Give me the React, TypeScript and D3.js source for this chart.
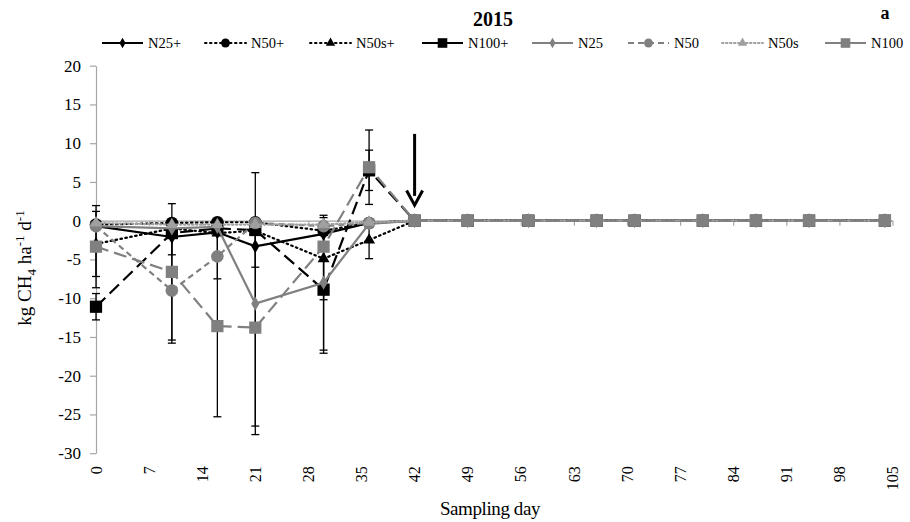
import { useEffect, useRef } from 'react';
import * as d3 from 'd3';

// sampling days (x values)
const days = [0, 10, 16, 21, 30, 36, 42, 49, 57, 66, 71, 80, 87, 94, 104];

// CH4 flux, kg CH4 ha-1 d-1
const n25p = [-0.7, -2.1, -1.5, -3.3, -1.7, -0.3, 0, 0, 0, 0, 0, 0, 0, 0, 0];
const n50p = [-0.5, -0.3, -0.2, -0.2, -1.3, -0.3, 0, 0, 0, 0, 0, 0, 0, 0, 0];
const n50sp = [-3.0, -1.0, -1.6, -1.3, -4.9, -2.5, 0, 0, 0, 0, 0, 0, 0, 0, 0];
const n100p = [-11.1, -1.6, -1.0, -1.2, -8.9, 6.5, 0, 0, 0, 0, 0, 0, 0, 0, 0];
const n25 = [-0.7, -1.0, -0.8, -10.7, -8.0, -0.4, 0, 0, 0, 0, 0, 0, 0, 0, 0];
const n50 = [-0.7, -9.0, -4.6, -0.3, -0.7, -0.3, 0, 0, 0, 0, 0, 0, 0, 0, 0];
const n50s = [-0.3, -0.5, -0.5, -0.5, -0.5, -0.2, 0, 0, 0, 0, 0, 0, 0, 0, 0];
const n100 = [-3.35, -6.6, -13.6, -13.8, -3.35, 6.9, 0, 0, 0, 0, 0, 0, 0, 0, 0];

// standard deviations (symmetric error bars)
const n25pErr = [0, 2.3, 0, 2.7, 0, 0, 0, 0, 0, 0, 0, 0, 0, 0, 0];
const n50pErr = [0, 0, 0, 0, 0.6, 0, 0, 0, 0, 0, 0, 0, 0, 0, 0];
const n50spErr = [4.2, 0, 0, 0, 5.3, 2.4, 0, 0, 0, 0, 0, 0, 0, 0, 0];
const n100pErr = [1.7, 0, 0, 0, 8.2, 2.6, 0, 0, 0, 0, 0, 0, 0, 0, 0];
const n25Err = [0, 0, 0, 16.9, 8.7, 0, 0, 0, 0, 0, 0, 0, 0, 0, 0];
const n50Err = [0, 6.8, 2.9, 0, 0, 0, 0, 0, 0, 0, 0, 0, 0, 0, 0];
const n50sErr = [0, 0, 0, 0, 0, 0, 0, 0, 0, 0, 0, 0, 0, 0, 0];
const n100Err = [5.3, 8.8, 11.7, 12.7, 0, 4.8, 0, 0, 0, 0, 0, 0, 0, 0, 0];

const seriesNames = ['N25+', 'N50+', 'N50s+', 'N100+', 'N25', 'N50', 'N50s', 'N100'];
const xTicks = d3.range(0, 106, 7);
const yTicks = d3.range(-30, 21, 5);

const GRAY = '#808080';
const FONT = '"Liberation Serif", "Times New Roman", serif';

export default function App() {
  const svgRef = useRef<SVGSVGElement>(null);

  useEffect(() => {
    if (!svgRef.current) return;
    const svg = d3.select(svgRef.current);
    svg.selectAll('*').remove();

    const series = [
      { name: seriesNames[0], values: n25p, err: n25pErr, color: '#000', dash: null, legendDash: null, symbol: 'diamond' },
      { name: seriesNames[1], values: n50p, err: n50pErr, color: '#000', dash: '1.5 3.5', legendDash: '1.5 3.5', symbol: 'circle' },
      { name: seriesNames[2], values: n50sp, err: n50spErr, color: '#000', dash: '1.5 3.5', legendDash: '1.5 3.5', symbol: 'triangle' },
      { name: seriesNames[3], values: n100p, err: n100pErr, color: '#000', dash: '13 6', legendDash: null, symbol: 'square' },
      { name: seriesNames[4], values: n25, err: n25Err, color: GRAY, dash: null, legendDash: null, symbol: 'diamond' },
      { name: seriesNames[5], values: n50, err: n50Err, color: GRAY, dash: '6 4', legendDash: '6 4', symbol: 'circle' },
      { name: seriesNames[6], values: n50s, err: n50sErr, color: '#a0a0a0', dash: '1.5 2.5', legendDash: '1.5 2.5', symbol: 'triangle' },
      { name: seriesNames[7], values: n100, err: n100Err, color: GRAY, dash: '13 6', legendDash: null, symbol: 'square' },
    ];

    const x = d3.scaleLinear().domain([0, 105]).range([96, 892.5]);
    const y = d3.scaleLinear().domain([-30, 20]).range([453.2, 65.7]);

    const symbolPath = (kind: string, big: boolean) => {
      const t =
        kind === 'diamond' ? d3.symbolDiamond :
        kind === 'circle' ? d3.symbolCircle :
        kind === 'triangle' ? d3.symbolTriangle : d3.symbolSquare;
      const sizes: Record<string, number[]> = {
        diamond: [58, 32],
        circle: [125, 62],
        triangle: [62, 38],
        square: [150, 92],
      };
      return d3.symbol(t, sizes[kind][big ? 0 : 1])();
    };

    // Y axis
    const yAxis = svg
      .append('g')
      .attr('transform', `translate(${x(0)},0)`)
      .call(
        d3.axisLeft(y).tickValues(yTicks).tickSize(6).tickSizeOuter(0).tickPadding(9)
          .tickFormat((d) => String(d))
      );
    yAxis.selectAll('.domain, .tick line').attr('stroke', '#a6a6a6').attr('stroke-width', 1.2);
    yAxis
      .selectAll('text')
      .attr('fill', '#000')
      .style('font-family', FONT)
      .style('font-size', '17px');

    // X axis crossing at zero
    const xAxis = svg
      .append('g')
      .attr('transform', `translate(0,${y(0)})`)
      .call(d3.axisBottom(x).tickValues(xTicks).tickSize(5).tickSizeOuter(0).tickFormat(() => ''));
    xAxis.selectAll('.domain, .tick line').attr('stroke', '#a6a6a6').attr('stroke-width', 1.2);

    // X labels at the bottom, rotated
    svg
      .append('g')
      .selectAll('text')
      .data(xTicks)
      .enter()
      .append('text')
      .attr('transform', (d) => `translate(${x(d)},${y(-30) + 13}) rotate(-90)`)
      .attr('text-anchor', 'end')
      .attr('dy', '0.35em')
      .style('font-family', FONT)
      .style('font-size', '16px')
      .text((d) => d);

    // error bars behind everything
    const bars = svg.append('g');
    series.forEach((s) => {
      s.values.forEach((v, i) => {
        const e = s.err[i];
        if (!e) return;
        const cx = x(days[i]);
        bars.append('line').attr('x1', cx).attr('x2', cx).attr('y1', y(v + e)).attr('y2', y(v - e))
          .attr('stroke', '#000').attr('stroke-width', 1.3);
        [v + e, v - e].forEach((c) => {
          bars.append('line').attr('x1', cx - 4).attr('x2', cx + 4).attr('y1', y(c)).attr('y2', y(c))
            .attr('stroke', '#000').attr('stroke-width', 1.3);
        });
      });
    });

    // lines + markers
    const line = d3
      .line<number>()
      .x((_, i) => x(days[i]))
      .y((d) => y(d));

    series.forEach((s) => {
      const g = svg.append('g');
      g.append('path')
        .attr('d', line(s.values))
        .attr('fill', 'none')
        .attr('stroke', s.color)
        .attr('stroke-width', 2.2)
        .attr('stroke-linecap', s.dash && s.dash.startsWith('1.5') ? 'round' : 'butt')
        .attr('stroke-dasharray', s.dash);
      g.selectAll('path.m')
        .data(s.values)
        .enter()
        .append('path')
        .attr('class', 'm')
        .attr('transform', (d, i) => `translate(${x(days[i])},${y(d)})`)
        .attr('d', symbolPath(s.symbol, true))
        .attr('fill', s.color);
    });

    // arrow marking day 42
    const ax = x(42);
    svg.append('line').attr('x1', ax).attr('x2', ax).attr('y1', y(11.2)).attr('y2', y(3.2))
      .attr('stroke', '#000').attr('stroke-width', 3);
    svg.append('path')
      .attr('d', `M${ax - 8},${y(3.9)} L${ax},${y(2.0)} L${ax + 8},${y(3.9)}`)
      .attr('fill', 'none').attr('stroke', '#000').attr('stroke-width', 3)
      .attr('stroke-linejoin', 'miter');

    // legend
    const legendX = [102, 205, 310, 422, 532, 628, 722, 825];
    const legY = 43;
    series.forEach((s, i) => {
      const lx = legendX[i];
      const g = svg.append('g');
      g.append('line').attr('x1', lx).attr('x2', lx + 41).attr('y1', legY).attr('y2', legY)
        .attr('stroke', s.color).attr('stroke-width', 2)
        .attr('stroke-linecap', s.legendDash && s.legendDash.startsWith('1.5') ? 'round' : 'butt')
        .attr('stroke-dasharray', s.legendDash);
      g.append('path').attr('transform', `translate(${lx + 20.5},${legY})`)
        .attr('d', symbolPath(s.symbol, false)).attr('fill', s.color);
      g.append('text').attr('x', lx + 46).attr('y', legY).attr('dy', '0.35em')
        .style('font-family', FONT).style('font-size', '14.5px').text(s.name);
    });

    // titles
    svg.append('text').attr('x', 493).attr('y', 26).attr('text-anchor', 'middle')
      .style('font-family', FONT).style('font-size', '20px').style('font-weight', 'bold').text('2015');
    svg.append('text').attr('x', 885).attr('y', 19).attr('text-anchor', 'middle')
      .style('font-family', FONT).style('font-size', '18px').style('font-weight', 'bold').text('a');

    svg.append('text').attr('x', 490).attr('y', 515).attr('text-anchor', 'middle')
      .style('font-family', FONT).style('font-size', '19px').style('letter-spacing', '-0.4px').text('Sampling day');

    const yl = svg.append('text')
      .attr('transform', `translate(31,${268}) rotate(-90)`)
      .attr('text-anchor', 'middle')
      .style('font-family', FONT).style('font-size', '19px');
    yl.append('tspan').text('kg CH');
    yl.append('tspan').attr('dy', 5).style('font-size', '13px').text('4');
    yl.append('tspan').attr('dy', -5).text(' ha');
    yl.append('tspan').attr('dy', -7).style('font-size', '13px').text('-1');
    yl.append('tspan').attr('dy', 7).text(' d');
    yl.append('tspan').attr('dy', -7).style('font-size', '13px').text('-1');
  }, []);

  return (
    <svg
      ref={svgRef}
      width={910}
      height={522}
      style={{ position: 'absolute', left: 0, top: 0, background: '#fff' }}
    />
  );
}
